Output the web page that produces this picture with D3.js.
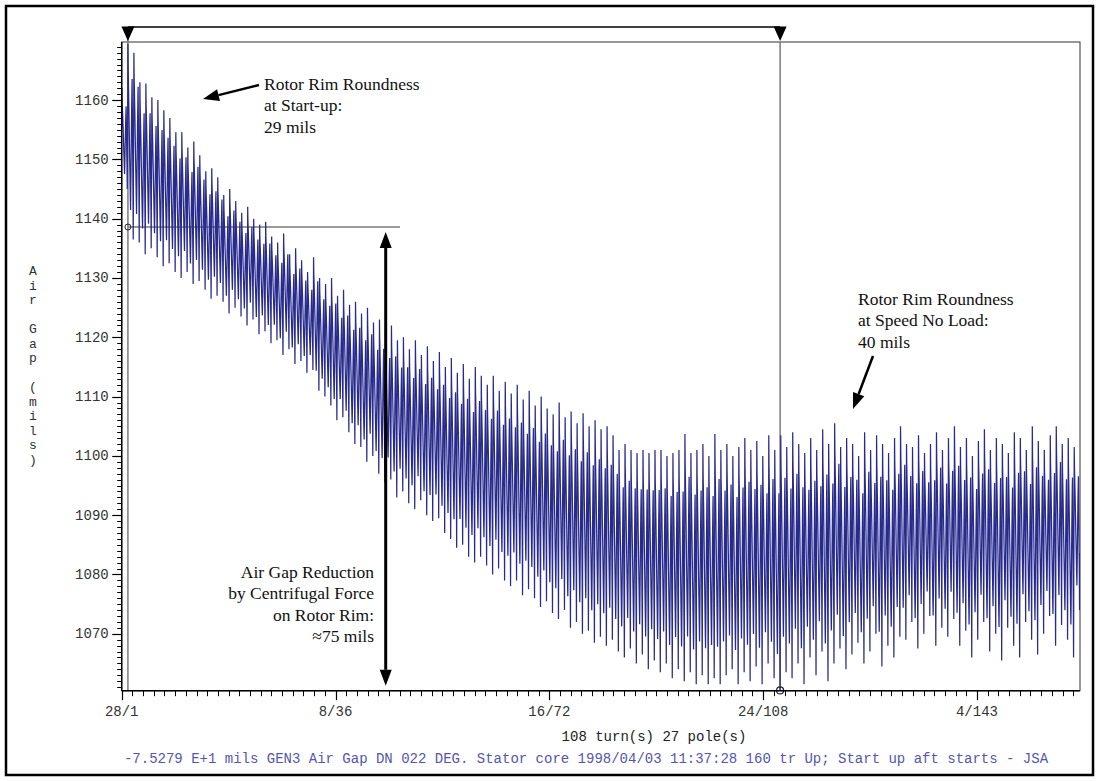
<!DOCTYPE html>
<html><head><meta charset="utf-8">
<script src="https://cdn.jsdelivr.net/npm/d3@7"></script>
<style>
html,body{margin:0;padding:0;background:#fff;}
svg{display:block;}
</style>
</head><body>
<svg id="chart" width="1099" height="781"></svg>
<script>
// ---------------- data ----------------
// highest pole gap of each turn (mils), turns 0..159
const peaks = [
 1162,1169.5,1168,1163,1162.8,1160.5,1160,1158.3,1157,1154.6,
 1154.6,1152,1153,1150.7,1148,1148.5,1147,1144,1145,1143,
 1141,1142,1140,1139,1139.5,1137,1136,1137.5,1134,1135,
 1133,1131,1133.5,1130,1129,1130,1127,1128,1125.5,1126,
 1124,1125,1122.5,1123,1121,1122,1119.5,1120,1118,1119.5,
 1117,1118.5,1116,1117.5,1115,1116.5,1114,1115.5,1113,1115,
 1113.5,1112,1113.5,1111,1112.5,1110.5,1112,1109.5,1111,1108.5,
 1110,1108,1107,1109,1106.5,1107.5,1105.5,1107.2,1105,1106,
 1104.5,1105,1103.5,1101,1102,1101,1100.5,1101,1100.5,1101,
 1101,1100,1100.5,1101,1103.7,1100.5,1101,1102,1100,1103.7,
 1101,1102,1100,1101.5,1103,1101,1102.5,1100,1103.5,1101,
 1103.5,1101.5,1104,1102,1100.5,1103,1101,1104.5,1102,1105.5,
 1101.5,1103,1102,1100,1104,1101,1103.5,1102,1100.5,1103,
 1105,1102,1101.5,1103.5,1100.5,1102,1104,1101,1103,1105,
 1101.5,1103,1100,1102.5,1104.5,1101,1103,1102,1100.5,1104,
 1103,1101,1105,1102.5,1101,1103.5,1105,1102,1103,1101.5
];
// lowest pole gap of each turn (mils), turns 0..159
const troughs = [
 1145,1136.5,1136,1134,1135,1133.5,1132,1132.5,1131,1130,
 1131,1129,1129.5,1128,1126.5,1127,1126,1124,1125,1123.5,
 1122,1123,1120.5,1121,1119,1119.5,1117,1118,1115.5,1116,
 1114,1114.5,1111,1110,1108.5,1106,1106.5,1104,1102,1101.5,
 1099,1100,1097,1095.5,1096,1093,1094,1092,1091,1092.5,
 1090,1089,1089.5,1087,1086,1084.5,1085,1083,1082,1083,
 1081.5,1080,1081,1079,1078,1079,1076.5,1077.5,1076,1074.5,
 1075.5,1073.5,1072.5,1074,1071,1072,1070,1070.5,1068.5,1069.5,
 1068,1069,1067,1066,1067.5,1065,1066.5,1064,1065.5,1063.5,
 1065,1062.5,1064,1062,1063.5,1061.5,1063,1061.5,1062.5,1061.5,
 1063,1064,1061.5,1063.5,1062,1064.5,1061.5,1065,1062.5,1060.5,
 1063.5,1062.5,1065,1061.5,1066,1063,1067,1062,1065,1067.5,
 1064,1066.5,1068.5,1065,1067,1070,1064.5,1068,1066,1069.5,
 1069,1072,1067.5,1070,1073,1068,1071,1069.5,1072.5,1068,
 1070.5,1066,1069,1072,1067,1070,1065.5,1071,1068,1066,
 1072,1069,1066.5,1070,1073,1068,1071.5,1069,1066,1074
];
// relative position of each of the 27 poles between the turn's lowest (0) and highest (1) gap
const poleProfile = [
 0.60,1.00,0.88,0.82,0.76,0.70,0.63,0.56,0.49,0.42,
 0.35,0.28,0.21,0.15,0.25,0.36,0.47,0.58,0.68,0.76,
 0.82,0.66,0.50,0.35,0.22,0.00,0.35
];
const nPoles = 27;
const nTurns = 160;

const yMajorTicks = [1070,1080,1090,1100,1110,1120,1130,1140,1150,1160];
const xTickTurns  = [0,35.7,71.4,107.1,142.8];
const xTickLabels = ["28/1","8/36","16/72","24/108","4/143"];

// cursors (turn position) and reference level
const cursorTurns = [1.04, 109.93];
const cursorValues = [1138.6, 1060.45];
const refLevel = 1138.6;

const yAxisTitle = ["A","i","r","","G","a","p","","(","m","i","l","s",")"];
const xAxisTitle = "108 turn(s) 27 pole(s)";
const footer = "-7.5279 E+1 mils GEN3 Air Gap DN 022 DEG. Stator core 1998/04/03 11:37:28 160 tr Up; Start up aft starts - JSA";
const noteStart = ["Rotor Rim Roundness","at Start-up:","29 mils"];
const noteSNL = ["Rotor Rim Roundness","at Speed No Load:","40 mils"];
const noteReduction = ["Air Gap Reduction","by Centrifugal Force","on Rotor Rim:","\u224875 mils"];

// ---------------- drawing ----------------
const svg = d3.select("#chart");
const L = 121.7, R = 1080, T = 42, B = 690.7;
const x = d3.scaleLinear().domain([0, nTurns]).range([L, R]);
const y = d3.scaleLinear().domain([1060.4, 1169.8]).range([B, T]);

const mono = "'Courier New','Liberation Mono','DejaVu Sans Mono',monospace";
const serif = "'Times New Roman','Liberation Serif','DejaVu Serif',serif";

// outer frame
svg.append("rect").attr("x",6).attr("y",6).attr("width",1087).attr("height",769)
  .attr("fill","none").attr("stroke","#000").attr("stroke-width",2.5);

// plot box
svg.append("rect").attr("x",L).attr("y",T).attr("width",R-L).attr("height",B-T)
  .attr("fill","none").attr("stroke","#333").attr("stroke-width",1);

// cursor lines (behind data)
const gCur = svg.append("g");
cursorTurns.forEach((ct,i)=>{
  gCur.append("line").attr("x1",x(ct)).attr("x2",x(ct))
    .attr("y1", i===0 ? 27 : T).attr("y2",B)
    .attr("stroke","#7a7a7a").attr("stroke-width",1.5);
});
// reference horizontal line
gCur.append("line").attr("x1",x(cursorTurns[0])).attr("x2",400)
  .attr("y1",y(refLevel)).attr("y2",y(refLevel))
  .attr("stroke","#7a7a7a").attr("stroke-width",1.5);

// data series
const series = [];
for (let t=0;t<nTurns;t++){
  for (let p=0;p<nPoles;p++){
    series.push({x: t + p/nPoles, y: troughs[t] + poleProfile[p]*(peaks[t]-troughs[t])});
  }
}
svg.append("clipPath").attr("id","clip").append("rect")
  .attr("x",L).attr("y",T).attr("width",R-L).attr("height",B-T+1);
svg.append("path").datum(series)
  .attr("clip-path","url(#clip)")
  .attr("fill","none").attr("stroke","#282b8c").attr("stroke-width",1.25)
  .attr("d", d3.line().x(d=>x(d.x)).y(d=>y(d.y)));

// cursor circles
svg.append("circle").attr("cx",x(cursorTurns[0])).attr("cy",y(refLevel)).attr("r",3)
  .attr("fill","none").attr("stroke","#222").attr("stroke-width",1);
svg.append("circle").attr("cx",x(cursorTurns[1])).attr("cy",y(cursorValues[1])).attr("r",3.5)
  .attr("fill","none").attr("stroke","#222").attr("stroke-width",1.2);

// top cursor bar and triangles
svg.append("line").attr("x1",x(cursorTurns[0])).attr("x2",x(cursorTurns[1]))
  .attr("y1",27).attr("y2",27).attr("stroke","#000").attr("stroke-width",1.5);
cursorTurns.forEach(ct=>{
  const cx = x(ct);
  svg.append("path").attr("d",`M${cx-6.5},26.5L${cx+6.5},26.5L${cx},41Z`).attr("fill","#000");
});

// y axis
const yMinor = d3.range(1061, 1170, 1);
const gy = svg.append("g").attr("transform",`translate(${L},0)`);
gy.append("line").attr("x1",0).attr("x2",0).attr("y1",T).attr("y2",B).attr("stroke","#000").attr("stroke-width",1.5);
gy.selectAll("line.minor").data(yMinor).enter().append("line").attr("class","minor")
  .attr("x1",-4.5).attr("x2",0).attr("y1",d=>Math.round(y(d))+0.5).attr("y2",d=>Math.round(y(d))+0.5)
  .attr("stroke","#000").attr("stroke-width",1);
gy.selectAll("line.major").data(yMajorTicks).enter().append("line").attr("class","major")
  .attr("x1",-9.5).attr("x2",0).attr("y1",d=>Math.round(y(d))+0.5).attr("y2",d=>Math.round(y(d))+0.5)
  .attr("stroke","#000").attr("stroke-width",1.2);
gy.selectAll("text").data(yMajorTicks).enter().append("text")
  .attr("x",-13).attr("y",d=>y(d)+4.5).attr("text-anchor","end")
  .attr("font-family",mono).attr("font-size",14).attr("fill","#333")
  .text(d=>d);

// x axis
const majorStep = xTickTurns[1]-xTickTurns[0];
const xMinor = d3.range(0, nTurns, majorStep/20);
const gx = svg.append("g").attr("transform",`translate(0,${B})`);
gx.append("line").attr("x1",L).attr("x2",R).attr("y1",0).attr("y2",0).attr("stroke","#000").attr("stroke-width",1.5);
gx.selectAll("line.minor").data(xMinor).enter().append("line").attr("class","minor")
  .attr("x1",d=>Math.round(x(d))+0.5).attr("x2",d=>Math.round(x(d))+0.5).attr("y1",0).attr("y2",5.5)
  .attr("stroke","#000").attr("stroke-width",1);
gx.selectAll("line.major").data(xTickTurns).enter().append("line").attr("class","major")
  .attr("x1",d=>Math.round(x(d))+0.5).attr("x2",d=>Math.round(x(d))+0.5).attr("y1",0).attr("y2",9.5)
  .attr("stroke","#000").attr("stroke-width",1.2);
gx.selectAll("text").data(xTickTurns).enter().append("text")
  .attr("x",d=>x(d)).attr("y",25.5).attr("text-anchor","middle")
  .attr("font-family",mono).attr("font-size",14).attr("fill","#333")
  .text((d,i)=>xTickLabels[i]);

// axis titles
svg.append("text").attr("x",654).attr("y",741).attr("text-anchor","middle")
  .attr("font-family",mono).attr("font-size",14).attr("fill","#222").text(xAxisTitle);
svg.selectAll("text.ytitle").data(yAxisTitle).enter().append("text").attr("class","ytitle")
  .attr("x",33).attr("y",(d,i)=>275+i*14.5).attr("text-anchor","middle")
  .attr("font-family",mono).attr("font-size",13).attr("fill","#333").text(d=>d);

// footer
svg.append("text").attr("x",586).attr("y",763).attr("text-anchor","middle")
  .attr("font-family",mono).attr("font-size",14).attr("fill","#5555b0").text(footer);

// ---------------- annotations ----------------
function arrowHead(g, x1, y1, x2, y2, len, half){
  const a = Math.atan2(y2-y1, x2-x1);
  const bx = x2 - len*Math.cos(a), by = y2 - len*Math.sin(a);
  const px = -Math.sin(a)*half, py = Math.cos(a)*half;
  g.append("path").attr("d",`M${x2},${y2}L${bx+px},${by+py}L${bx-px},${by-py}Z`).attr("fill","#000");
  return [bx,by];
}
const gA = svg.append("g");
// start-up arrow
{
  const x1=259,y1=85,x2=203,y2=99;
  const [bx,by] = arrowHead(gA,x1,y1,x2,y2,16,6);
  gA.append("line").attr("x1",x1).attr("y1",y1).attr("x2",bx).attr("y2",by).attr("stroke","#000").attr("stroke-width",2.5);
}
// speed no load arrow
{
  const x1=873,y1=356,x2=853,y2=409;
  const [bx,by] = arrowHead(gA,x1,y1,x2,y2,16,6);
  gA.append("line").attr("x1",x1).attr("y1",y1).attr("x2",bx).attr("y2",by).attr("stroke","#000").attr("stroke-width",2.5);
}
// reduction double arrow
{
  const ax = 385.7, top = y(refLevel)+5, bot = B-5;
  const [bx1,by1] = arrowHead(gA,ax,bot,ax,top,16,6);
  const [bx2,by2] = arrowHead(gA,ax,top,ax,bot,16,6);
  gA.append("line").attr("x1",ax).attr("x2",ax).attr("y1",by1).attr("y2",by2).attr("stroke","#000").attr("stroke-width",3);
}
function note(lines, x0, y0, anchor){
  const t = gA.append("text").attr("font-family",serif).attr("font-size",17.5).attr("fill","#111")
    .attr("text-anchor",anchor);
  lines.forEach((s,i)=>t.append("tspan").attr("x",x0).attr("y",y0+i*21.3).text(s));
}
note(noteStart, 264, 90, "start");
note(noteSNL, 858, 305, "start");
note(noteReduction, 374, 578, "end");
</script>
</body></html>
